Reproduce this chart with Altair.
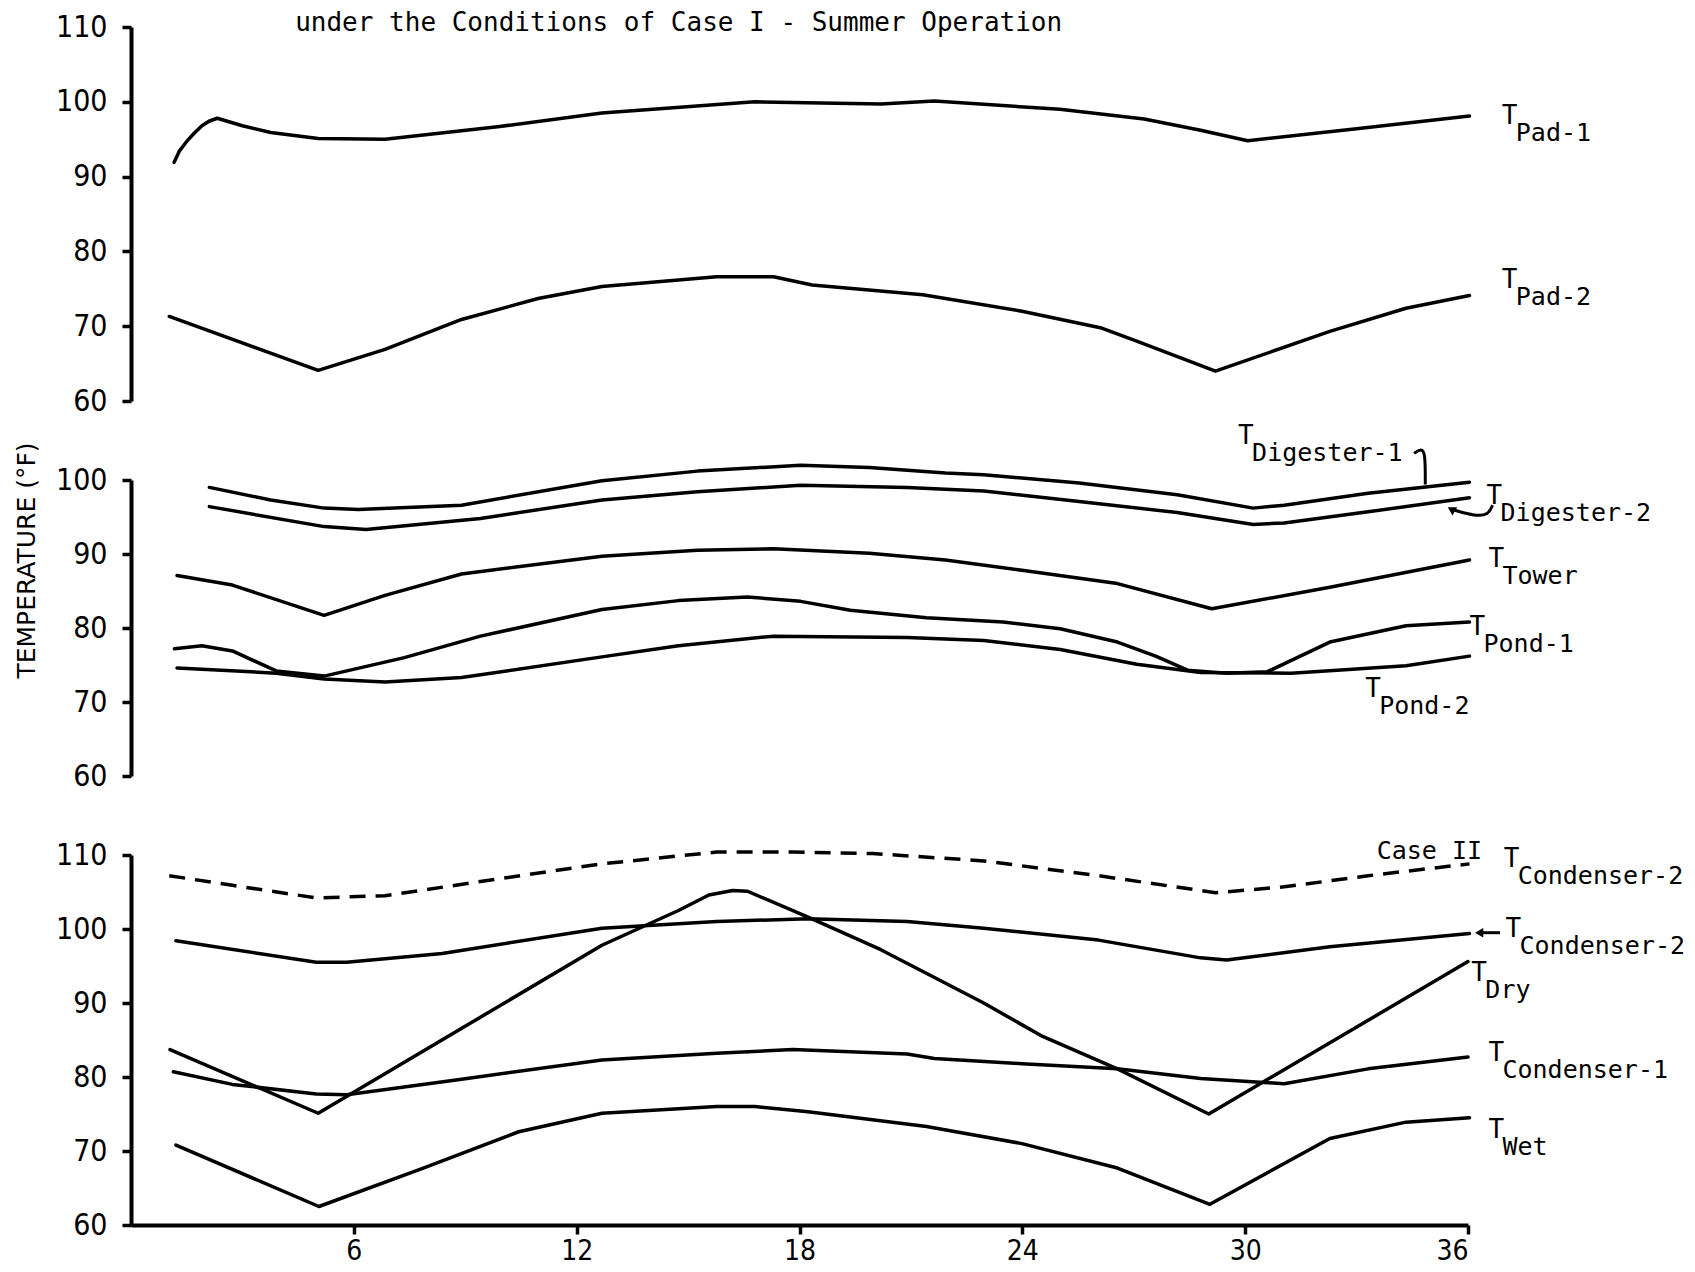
import altair as alt
import pandas as pd

# ---------------- data (hour of day, temperature degF) ----------------
# Top panel
PAD1_H = [1.16, 1.3, 1.5, 1.7, 1.91, 2.1, 2.32, 3.0, 3.76, 5.04, 6.84, 9.93, 12.68, 16.79, 20.19, 21.63, 25.01, 27.28, 28.8, 30.07, 33.0, 36.04]
PAD1_T = [91.9, 93.4, 94.7, 95.8, 96.8, 97.4, 97.8, 96.8, 95.9, 95.1, 95.0, 96.7, 98.5, 100.0, 99.7, 100.1, 99.0, 97.7, 96.2, 94.8, 96.4, 98.1]
PAD2_H = [1.03, 5.04, 6.84, 8.9, 10.96, 12.68, 15.77, 17.3, 18.34, 21.32, 23.99, 26.1, 27.08, 29.2, 32.28, 34.33, 36.04]
PAD2_T = [71.3, 64.1, 66.9, 70.9, 73.7, 75.3, 76.6, 76.6, 75.5, 74.2, 72.0, 69.8, 68.0, 64.0, 69.3, 72.4, 74.1]

# Middle panel
DIG1_H = [2.11, 3.76, 5.2, 6.12, 8.9, 12.68, 15.25, 18.03, 19.88, 21.93, 22.96, 25.53, 28.17, 30.22, 31.05, 33.31, 36.04]
DIG1_T = [99.0, 97.3, 96.2, 96.0, 96.6, 99.9, 101.2, 102.0, 101.7, 100.95, 100.7, 99.6, 98.0, 96.2, 96.6, 98.2, 99.7]
DIG2_H = [2.11, 5.2, 6.33, 9.41, 12.68, 15.25, 18.03, 20.9, 22.96, 25.53, 28.17, 30.22, 31.05, 33.31, 36.04]
DIG2_T = [96.4, 93.7, 93.3, 94.8, 97.3, 98.4, 99.3, 99.0, 98.5, 97.1, 95.6, 94.0, 94.2, 95.7, 97.6]
TOWER_H = [1.24, 2.73, 5.2, 6.84, 8.9, 12.68, 15.25, 17.3, 19.88, 21.93, 23.99, 26.56, 29.1, 32.28, 36.04]
TOWER_T = [87.1, 85.8, 81.7, 84.4, 87.3, 89.7, 90.5, 90.7, 90.1, 89.2, 87.8, 86.0, 82.6, 85.5, 89.2]
POND1_H = [1.17, 1.91, 2.73, 3.91, 5.2, 7.36, 9.41, 12.68, 14.74, 16.59, 18.03, 19.37, 21.42, 23.48, 25.02, 26.56, 27.59, 28.45, 29.5, 30.6, 32.28, 34.33, 36.04]
POND1_T = [77.2, 77.6, 76.9, 74.2, 73.5, 76.0, 78.9, 82.5, 83.7, 84.2, 83.6, 82.4, 81.4, 80.8, 79.9, 78.1, 76.2, 74.3, 73.9, 74.1, 78.1, 80.3, 80.8]
POND2_H = [1.24, 3.91, 5.2, 6.84, 8.9, 12.68, 14.74, 17.3, 20.9, 22.96, 25.02, 27.08, 28.8, 31.24, 34.33, 36.04]
POND2_T = [74.6, 73.9, 73.1, 72.7, 73.3, 76.1, 77.6, 78.9, 78.7, 78.3, 77.1, 75.1, 74.0, 73.9, 74.9, 76.2]

# Bottom panel
CASE2_H = [1.03, 2.73, 4.99, 6.84, 9.93, 12.68, 15.77, 17.82, 19.97, 22.96, 26.05, 28.8, 29.2, 31.05, 33.31, 36.04]
CASE2_T = [107.2, 105.9, 104.2, 104.5, 106.8, 108.8, 110.4, 110.4, 110.2, 109.2, 107.2, 105.2, 104.9, 105.7, 107.2, 108.8]
COND2_H = [1.21, 4.99, 5.81, 8.38, 12.68, 15.77, 18.23, 20.9, 22.96, 26.05, 28.8, 29.5, 32.28, 36.04]
COND2_T = [98.4, 95.5, 95.5, 96.7, 100.1, 101.0, 101.4, 101.0, 100.1, 98.5, 96.1, 95.8, 97.6, 99.4]
DRY_H = [1.05, 5.04, 12.68, 14.74, 15.56, 16.2, 16.6, 18.23, 20.19, 22.96, 24.5, 26.56, 29.02, 36.0]
DRY_T = [83.7, 75.1, 97.8, 102.5, 104.6, 105.2, 105.1, 101.6, 97.2, 90.0, 85.6, 81.1, 75.0, 95.6]
COND1_H = [1.14, 2.73, 4.99, 5.81, 8.9, 12.68, 15.77, 17.82, 20.9, 21.63, 23.99, 26.56, 28.8, 31.05, 33.31, 36.0]
COND1_T = [80.7, 79.0, 77.7, 77.6, 79.7, 82.3, 83.2, 83.7, 83.1, 82.5, 81.8, 81.1, 79.8, 79.1, 81.1, 82.7]
WET_H = [1.21, 5.06, 7.87, 10.44, 12.68, 15.77, 16.8, 18.23, 21.42, 23.99, 26.56, 29.05, 32.28, 34.33, 36.04]
WET_T = [70.8, 62.5, 67.7, 72.6, 75.1, 76.0, 76.0, 75.3, 73.3, 71.0, 67.7, 62.8, 71.7, 73.9, 74.5]

# Curve labels: "T" + subscript, anchored in data units (hour, degF)
TOP_LAB_SUB = ["Pad-1", "Pad-2"]
TOP_LAB_H = [36.91, 36.91]
TOP_LAB_T = [98.1, 76.2]
MID_LAB_SUB = ["Digester-1", "Digester-2", "Tower", "Pond-1", "Pond-2"]
MID_LAB_H = [29.81, 36.5, 36.55, 36.04, 33.23]
MID_LAB_T = [106.0, 97.9, 89.3, 80.2, 71.7]
BOT_LAB_SUB = ["Condenser-2", "Condenser-2", "Dry", "Condenser-1", "Wet"]
BOT_LAB_H = [36.96, 37.01, 36.09, 36.55, 36.55]
BOT_LAB_T = [109.5, 100.0, 94.0, 83.3, 72.9]

TITLE_TEXT = ["under the Conditions of Case I - Summer Operation"]
TITLE_H = [4.42]
TITLE_T = [110.5]
CASE_TEXT = ["Case II"]
CASE_H = [33.54]
CASE_T = [110.6]

# Hand-drawn pointer strokes
MID_CONN_ID = ["d1", "d1", "d1", "d1", "d2", "d2", "d2", "d2"]
MID_CONN_ORD = [0, 1, 2, 3, 0, 1, 2, 3]
MID_CONN_H = [34.55, 34.75, 34.85, 34.85, 36.66, 36.55, 36.2, 35.62]
MID_CONN_T = [103.6, 104.3, 103.6, 99.4, 96.6, 95.3, 95.1, 95.95]
MID_TIP_H = [35.55]
MID_TIP_T = [96.05]
MID_TIP_ANG = [30]
BOT_CONN_ID = ["c2", "c2"]
BOT_CONN_ORD = [0, 1]
BOT_CONN_H = [36.86, 36.35]
BOT_CONN_T = [99.5, 99.5]
BOT_TIP_H = [36.3]
BOT_TIP_T = [99.5]
BOT_TIP_ANG = [0]

X_TICKS = [6, 12, 18, 24, 30, 36]
Y_TICKS_TOP = [60, 70, 80, 90, 100, 110]
Y_TICKS_MID = [60, 70, 80, 90, 100]
Y_TICKS_BOT = [60, 70, 80, 90, 100, 110]

# ---------------- helpers ----------------
FONT_NUM = "DejaVu Sans Condensed, Liberation Sans Narrow, Roboto, sans-serif"
FONT_TITLE = "DejaVu Sans, sans-serif"
FONT_MONO = "DejaVu Sans Mono, Liberation Mono, monospace"
W = 1337
LW = 3.5


def long_df(named):
    rows = []
    for name, hs, ts in named:
        for h, t in zip(hs, ts):
            rows.append({"series": name, "hour": h, "temp": t})
    return pd.DataFrame(rows)


def lab_df(subs, hs, ts):
    return pd.DataFrame({"sub": subs, "hour": hs, "temp": ts})


def make_panel(lines, dashed, labels, extras, ydomain, yticks, height, show_x, ytitle=None):
    xscale = alt.Scale(domain=[0, 36], nice=False, zero=False)
    if show_x:
        xaxis = alt.Axis(values=X_TICKS, tickSize=9, tickWidth=3.5, domainWidth=4,
                         labelFont=FONT_NUM, labelFontSize=28, labelPadding=3,
                         grid=False, title=None)
    else:
        xaxis = None
    X = alt.X("hour:Q", scale=xscale, axis=xaxis)
    yax_kw = dict(values=yticks, tickSize=9, tickWidth=3.5, domainWidth=4,
                  labelFont=FONT_NUM, labelFontSize=30, labelPadding=15, grid=False)
    yscale = alt.Scale(domain=ydomain, nice=False, zero=False)
    if ytitle:
        yax_kw.update(title=ytitle, titleFont=FONT_TITLE, titleFontSize=25, titleFontWeight="normal",
                      titleAngle=270, titleX=-105, titleY=80, titleAlign="center",
                      titleBaseline="middle")
        Y = alt.Y("temp:Q", scale=yscale, axis=alt.Axis(**yax_kw))
    else:
        Y = alt.Y("temp:Q", scale=yscale, axis=alt.Axis(**yax_kw), title=None)

    layers = [
        alt.Chart(lines).mark_line(color="black", strokeWidth=LW, strokeJoin="round", strokeCap="round")
        .encode(x=X, y=Y, detail="series:N")
    ]
    if dashed is not None:
        layers.append(
            alt.Chart(dashed).mark_line(color="black", strokeWidth=LW, strokeDash=[16, 10])
            .encode(x=X, y=Y, detail="series:N")
        )
    layers.append(
        alt.Chart(labels).mark_text(text="T", align="left", baseline="middle", font=FONT_MONO,
                                     fontSize=26, color="black")
        .encode(x=X, y=Y)
    )
    layers.append(
        alt.Chart(labels).mark_text(align="left", baseline="middle", dx=14, dy=17, font=FONT_MONO,
                                     fontSize=25, color="black")
        .encode(x=X, y=Y, text="sub:N")
    )
    layers.extend([e(X, Y) for e in extras])
    return alt.layer(*layers).properties(width=W, height=height)


def text_layer(texts, hs, ts, size):
    df = pd.DataFrame({"txt": texts, "hour": hs, "temp": ts})
    return lambda X, Y: alt.Chart(df).mark_text(align="left", baseline="middle", font=FONT_MONO,
                                                 fontSize=size, color="black").encode(x=X, y=Y, text="txt:N")


def conn_layer(ids, ords, hs, ts):
    df = pd.DataFrame({"cid": ids, "ord": ords, "hour": hs, "temp": ts})
    return lambda X, Y: alt.Chart(df).mark_line(color="black", strokeWidth=3, interpolate="basis") \
        .encode(x=X, y=Y, detail="cid:N", order="ord:Q")


def tip_layer(hs, ts, angs):
    df = pd.DataFrame({"hour": hs, "temp": ts, "ang": angs})
    return lambda X, Y: alt.Chart(df).mark_point(shape="triangle-left", filled=True, size=90,
                                                  color="black", opacity=1) \
        .encode(x=X, y=Y, angle=alt.Angle("ang:Q", scale=None))


top_lines = long_df([("Pad-1", PAD1_H, PAD1_T), ("Pad-2", PAD2_H, PAD2_T)])
mid_lines = long_df([("Digester-1", DIG1_H, DIG1_T), ("Digester-2", DIG2_H, DIG2_T),
                     ("Tower", TOWER_H, TOWER_T), ("Pond-1", POND1_H, POND1_T),
                     ("Pond-2", POND2_H, POND2_T)])
bot_lines = long_df([("Condenser-2", COND2_H, COND2_T), ("Dry", DRY_H, DRY_T),
                     ("Condenser-1", COND1_H, COND1_T), ("Wet", WET_H, WET_T)])
bot_dashed = long_df([("Case II Condenser-2", CASE2_H, CASE2_T)])

top = make_panel(top_lines, None, lab_df(TOP_LAB_SUB, TOP_LAB_H, TOP_LAB_T),
                 [text_layer(TITLE_TEXT, TITLE_H, TITLE_T, 26)],
                 [60, 110], Y_TICKS_TOP, 374, False)
mid = make_panel(mid_lines, None, lab_df(MID_LAB_SUB, MID_LAB_H, MID_LAB_T),
                 [conn_layer(MID_CONN_ID, MID_CONN_ORD, MID_CONN_H, MID_CONN_T),
                  tip_layer(MID_TIP_H, MID_TIP_T, MID_TIP_ANG)],
                 [60, 100], Y_TICKS_MID, 296, False, ytitle="TEMPERATURE (°F)")
bot = make_panel(bot_lines, bot_dashed, lab_df(BOT_LAB_SUB, BOT_LAB_H, BOT_LAB_T),
                 [text_layer(CASE_TEXT, CASE_H, CASE_T, 25),
                  conn_layer(BOT_CONN_ID, BOT_CONN_ORD, BOT_CONN_H, BOT_CONN_T),
                  tip_layer(BOT_TIP_H, BOT_TIP_T, BOT_TIP_ANG)],
                 [60, 110], Y_TICKS_BOT, 370, True)

chart = alt.vconcat(top, mid, bot, spacing=79, bounds="flush").properties(
    padding={"left": 6, "top": 2, "right": 0, "bottom": 0},
    background="white",
).configure_view(strokeWidth=0).configure_axis(
    domainColor="black", tickColor="black", labelColor="black", titleColor="black"
)

chart.save("out.html", embed_options={"renderer": "svg", "actions": False})
